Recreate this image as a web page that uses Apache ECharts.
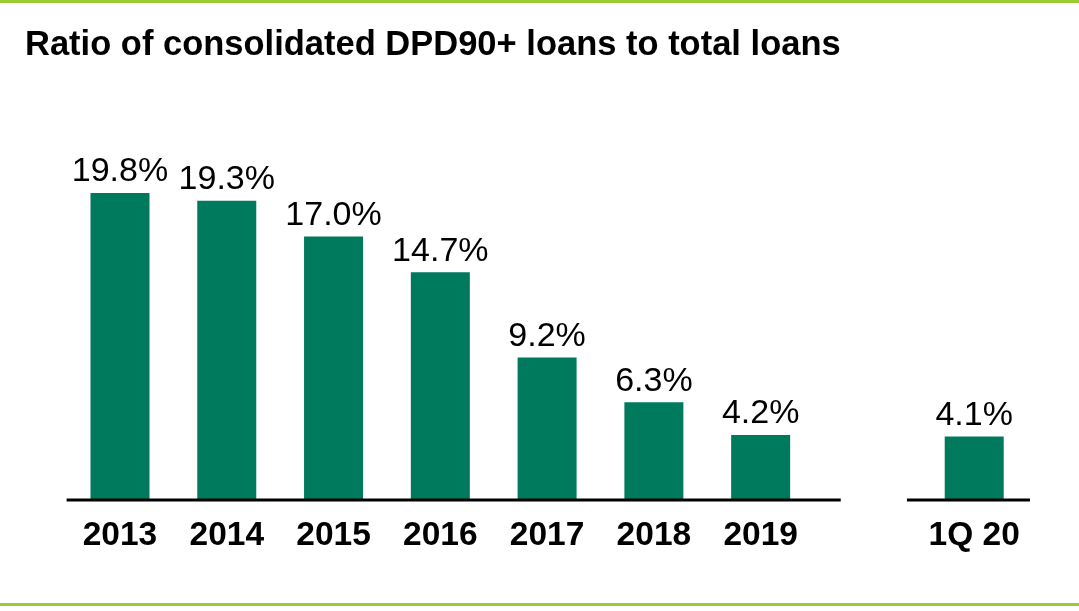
<!DOCTYPE html>
<html>
<head>
<meta charset="utf-8">
<script src="https://cdn.jsdelivr.net/npm/echarts@6/dist/echarts.min.js"></script>
<style>
html,body{margin:0;padding:0;background:#fff;}
#chart{width:1079px;height:611px;}
</style>
</head>
<body>
<div id="chart"></div>
<script>
const titleText = 'Ratio of consolidated DPD90+ loans to total loans';
const categories = ['2013', '2014', '2015', '2016', '2017', '2018', '2019', '', '1Q 20'];
const ratioValues = [19.8, 19.3, 17.0, 14.7, 9.2, 6.3, 4.2, null, 4.1];

const chart = echarts.init(document.getElementById('chart'));
const FONT = 'Liberation Sans, Arial, sans-serif';
const option = {
  backgroundColor: '#ffffff',
  animation: false,
  title: {
    text: titleText,
    left: 20,
    top: 23,
    textStyle: { fontFamily: FONT, fontSize: 34.5, fontWeight: 'bold', color: '#000' }
  },
  graphic: [
    { type: 'rect', left: 0, top: 0, shape: { width: 1079, height: 3 }, style: { fill: '#99CC33' } },
    { type: 'rect', left: 0, top: 603, shape: { width: 1079, height: 3 }, style: { fill: '#99CC33' } }
  ],
  grid: { left: 66.6, right: 51.4, top: 190, bottom: 111, containLabel: false },
  xAxis: [
    {
      type: 'category',
      data: categories,
      axisLine: { show: false },
      axisTick: { show: false },
      axisLabel: { margin: 19, fontFamily: FONT, fontSize: 33.5, fontWeight: 'bold', color: '#000', interval: 0 }
    },
    { type: 'value', min: -0.5, max: 8.5, show: false }
  ],
  yAxis: { type: 'value', min: 0, max: 20, show: false, splitLine: { show: false } },
  series: [
    {
      type: 'bar',
      data: ratioValues,
      barWidth: 59,
      itemStyle: { color: '#007A5C' },
      label: {
        show: true,
        position: 'top',
        distance: 4,
        fontFamily: FONT,
        fontSize: 34,
        color: '#000',
        formatter: p => p.value == null ? '' : p.value.toFixed(1) + '%'
      }
    },
    {
      type: 'line', xAxisIndex: 1, data: [[-0.5, 0], [6.75, 0]],
      symbol: 'none', silent: true, clip: false, z: 5,
      lineStyle: { color: '#000', width: 3 }
    },
    {
      type: 'line', xAxisIndex: 1, data: [[7.37, 0], [8.55, 0]],
      symbol: 'none', silent: true, clip: false, z: 5,
      lineStyle: { color: '#000', width: 3 }
    }
  ]
};
chart.setOption(option);
</script>
</body>
</html>
